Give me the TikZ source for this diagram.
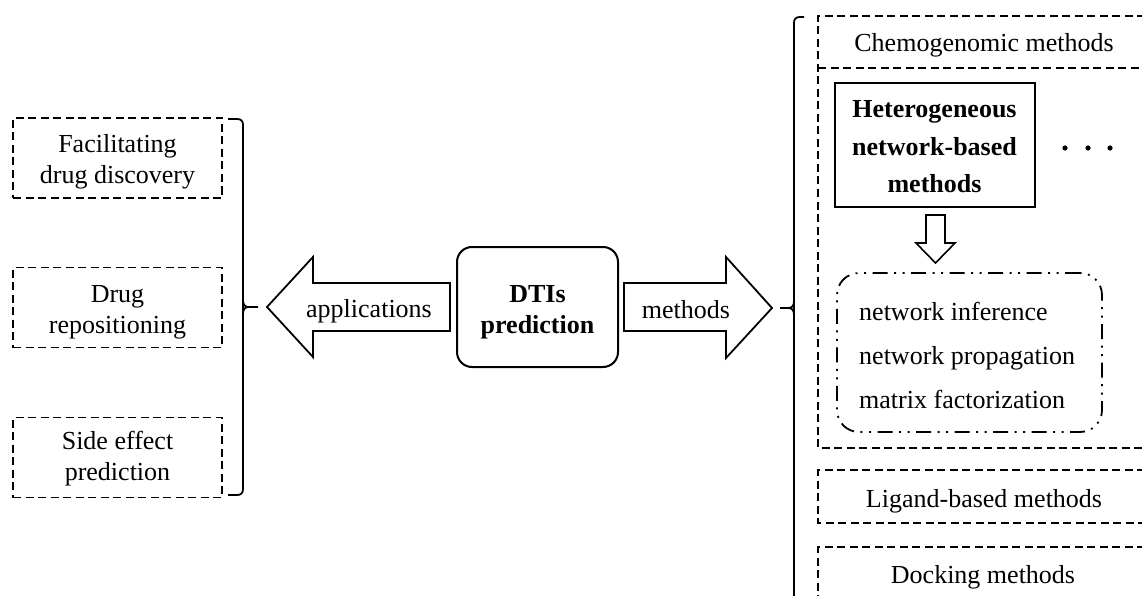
\documentclass[tikz,border=0pt]{standalone}
\usepackage{fontspec}
\setmainfont{Liberation Serif}
\begin{document}
\begin{tikzpicture}[x=1pt,y=-1pt,
  txt/.style={font=\fontsize{26}{31}\selectfont, inner sep=0pt, anchor=base},
  btxt/.style={font=\fontsize{26}{31}\selectfont\bfseries, inner sep=0pt, anchor=base},
  dbox/.style={draw, line width=1.6pt, dash pattern=on 8pt off 4.5pt},
  sbox/.style={draw, line width=2pt},
  brace/.style={draw, line width=1.8pt},
  barrow/.style={draw, line width=1.8pt, line join=miter},
  ddbox/.style={draw, line width=1.8pt, rounded corners=22pt,
     dash pattern=on 15pt off 6.5pt on 2pt off 6.5pt on 2pt off 6.5pt}
]
\useasboundingbox (0,0) rectangle (1142,596);
\fill[white] (0,0) rectangle (1142,596);
\begin{scope}
\clip (0,0) rectangle (1142,596);

% ---- left application boxes
\node[dbox, minimum width=209pt, minimum height=80pt, inner sep=0pt] (app1) at (117.5,158) {};
\node[txt] at (117.5,153) {Facilitating};
\node[txt] at (117.5,184) {drug discovery};
\node[dbox, minimum width=209pt, minimum height=80pt, inner sep=0pt] (app2) at (117.5,307.5) {};
\node[txt] at (117.5,302) {Drug};
\node[txt] at (117.5,333) {repositioning};
\node[dbox, minimum width=209pt, minimum height=80pt, inner sep=0pt] (app3) at (117.5,457.5) {};
\node[txt] at (117.5,449) {Side effect};
\node[txt] at (117.5,480) {prediction};

% ---- left brace
\coordinate (lbtip) at (258,307);
\draw[brace] (228,119) -- (237,119) .. controls (241,119) and (243,121) .. (243,125)
   -- (243,489) .. controls (243,493) and (241,495) .. (237,495) -- (228,495);
\draw[brace] (243,300) .. controls (243,305) and (245,307) .. (249,307) -- (lbtip);
\draw[brace] (243,314) .. controls (243,309) and (245,307) .. (249,307);

% ---- applications arrow
\draw[barrow] (267,307) coordinate (apptip) -- (313,257) -- (313,283) -- (450,283)
   -- (450,331) -- (313,331) -- (313,357) -- cycle;
\node[txt] (applab) at (369,317) {applications};

% ---- DTIs box
\node[sbox, rounded corners=15pt, minimum width=161pt, minimum height=120pt, inner sep=0pt] (dti) at (537.5,307) {};
\node[btxt] at (537.5,302) {DTIs};
\node[btxt] at (537.5,333) {prediction};

% ---- methods arrow
\draw[barrow] (624,283) -- (726,283) -- (726,257) -- (772,308) coordinate (mtip)
   -- (726,358) -- (726,331) -- (624,331) -- cycle;
\node[txt] (methlab) at (686,318) {methods};

% ---- right brace
\coordinate (rbtip) at (780,308);
\draw[brace] (804,17) -- (800,17) .. controls (796,17) and (794,19) .. (794,23) -- (794,620);
\draw[brace] (794,301) .. controls (794,306) and (792,308) .. (788,308) -- (rbtip);
\draw[brace] (794,315) .. controls (794,310) and (792,308) .. (788,308);

% ---- chemogenomic box
\draw[dbox] (1170,16) -- (818,16) -- (818,448) -- (1170,448);
\draw[dbox] (818,68) -- (1170,68);
\node[txt] (chemo) at (984,52) {Chemogenomic methods};

% heterogeneous box
\node[sbox, minimum width=200pt, minimum height=124pt, inner sep=0pt] (het) at (934.5,145) {};
\node[btxt] at (934.5,118) {Heterogeneous};
\node[btxt] at (934.5,155.5) {network-based};
\node[btxt] at (934.5,193) {methods};

% dots
\foreach \xx in {1065,1088,1110} \fill (\xx,148) circle (2.6pt);

% down arrow
\draw[barrow, line width=1.6pt] (926,215) -- (945,215) -- (945,243) -- (955,243) -- (935.5,263)
   -- (916,243) -- (926,243) -- cycle;

% dash-dot box
\node[ddbox, minimum width=265pt, minimum height=159pt, inner sep=0pt] (algs) at (969.5,352.5) {};
\node[txt, anchor=base west] at (859,320) {network inference};
\node[txt, anchor=base west] at (859,364) {network propagation};
\node[txt, anchor=base west] at (859,408) {matrix factorization};

% ligand box
\draw[dbox] (1170,470) -- (818,470) -- (818,523) -- (1170,523);
\node[txt] (lig) at (984,507) {Ligand-based methods};

% docking box
\draw[dbox] (1170,547) -- (818,547) -- (818,620);
\node[txt] (dock) at (983,583) {Docking methods};
\end{scope}
\end{tikzpicture}
\end{document}
